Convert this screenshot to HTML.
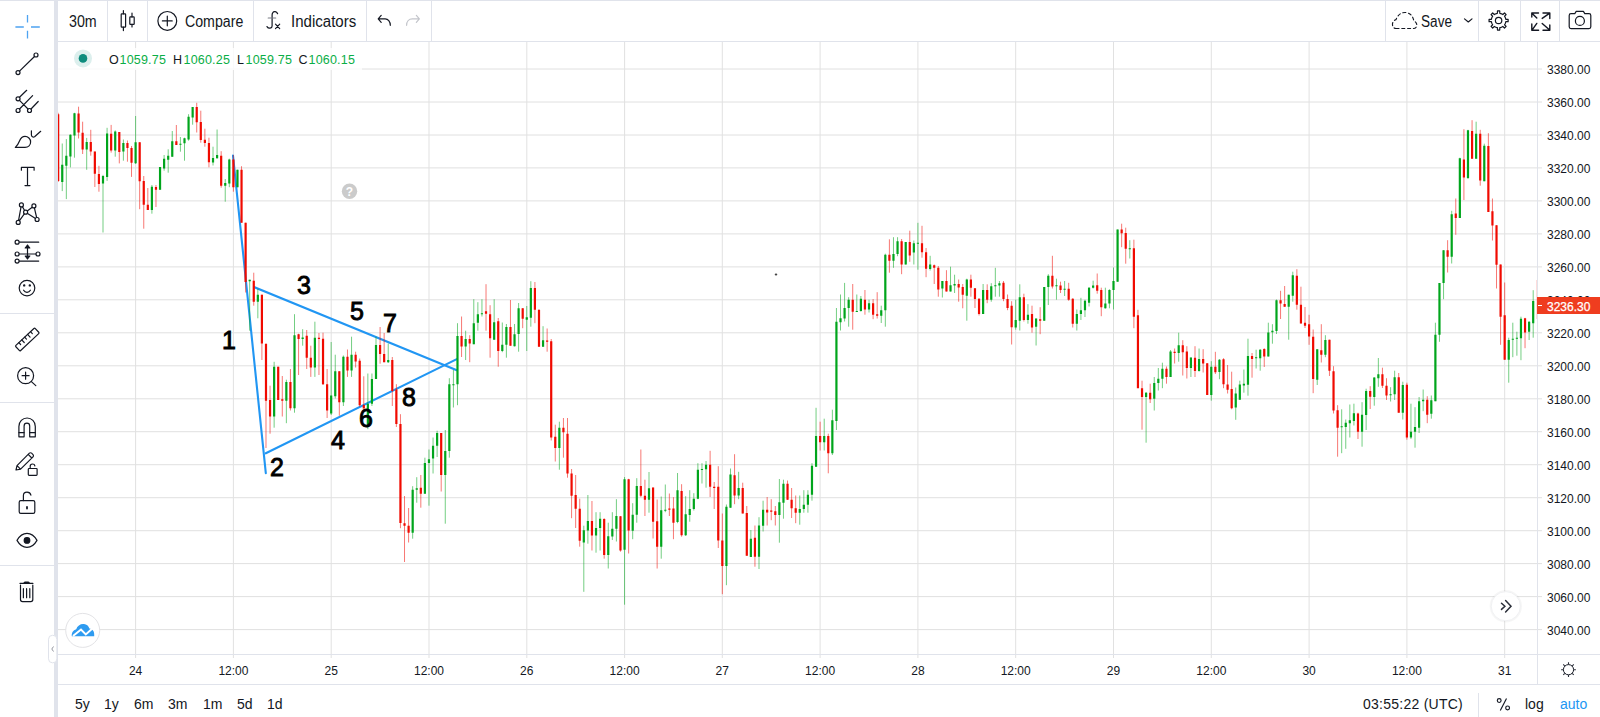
<!DOCTYPE html>
<html><head><meta charset="utf-8">
<style>
*{margin:0;padding:0;box-sizing:border-box}
html,body{width:1600px;height:717px;overflow:hidden;background:#fff;font-family:"Liberation Sans",sans-serif;color:#131722}
.abs{position:absolute}
#topstrip{position:absolute;left:0;top:0;width:1600px;height:1px;background:#e0e3eb}
#lsep{position:absolute;left:54px;top:0;width:4px;height:717px;background:#e0e3eb}
#tbar{position:absolute;left:58px;top:1px;width:1542px;height:41px;border-bottom:1px solid #e0e3eb;background:#fff}
.vsep{position:absolute;top:1px;width:1px;height:40px;background:#e0e3eb}
.hsep{position:absolute;left:0;width:54px;height:1px;background:#e0e3eb}
.tt{position:absolute;top:13px;font-size:16px;line-height:17px;transform-origin:0 0;color:#131722;white-space:nowrap}
#chart{position:absolute;left:0;top:0}
.pl{position:absolute;left:1547px;font-size:12px;line-height:15px;color:#131722;white-space:nowrap}
.tl{position:absolute;top:664px;width:60px;text-align:center;font-size:12px;line-height:15px;color:#131722}
.bt{position:absolute;top:696px;font-size:14px;line-height:17px;color:#131722;white-space:nowrap}
.num{position:absolute;font-weight:normal;font-size:25px;line-height:25px;color:#000;-webkit-text-stroke:0.9px #000}
.lg{position:absolute;top:53px;font-size:12.5px;line-height:15px;color:#131722;white-space:nowrap;letter-spacing:0.2px}
.lg.g{color:#0aae46}
</style></head><body>
<div id="topstrip"></div>

<!-- chart svg -->
<svg id="chart" width="1600" height="717" viewBox="0 0 1600 717">
  <path d="M58 69.0H1542M58 102.0H1542M58 135.0H1542M58 167.9H1542M58 200.9H1542M58 233.9H1542M58 266.9H1542M58 299.8H1542M58 332.8H1542M58 365.8H1542M58 398.8H1542M58 431.7H1542M58 464.7H1542M58 497.7H1542M58 530.7H1542M58 563.6H1542M58 596.6H1542M58 629.6H1542" stroke="#e0e0e0" stroke-width="1" fill="none"/>
  <path d="M135.6 42V658M233.4 42V658M331.2 42V658M429.0 42V658M526.8 42V658M624.6 42V658M722.3 42V658M820.1 42V658M917.9 42V658M1015.7 42V658M1113.5 42V658M1211.3 42V658M1309.1 42V658M1406.9 42V658M1504.7 42V658" stroke="#e1e1e1" stroke-width="1" fill="none"/>
  <rect x="58" y="48" width="304" height="22" fill="#fff" fill-opacity="0.8"/>
  <defs><clipPath id="cp"><rect x="58" y="42" width="1480.5" height="612"/></clipPath></defs>
  <g stroke="#2196f3" stroke-width="2.1" fill="none" stroke-linecap="round">
    <path d="M233 155.6L265.8 473.2"/>
    <path d="M254 287L456.8 370.2"/>
    <path d="M265.8 453.3L456.8 359.1"/>
  </g>
  <g clip-path="url(#cp)"><path d="M62.26 143.5V191.1M66.33 139.1V199.1M70.41 134.4V167.4M74.48 112.8V157.7M86.70 137.9V169.8M103.00 174.9V232.5M107.08 127.8V180.9M115.23 130.4V156.7M123.38 139.5V160.7M135.60 116.0V164.0M151.90 185.0V213.7M160.05 167.0V189.8M164.12 155.0V170.7M168.20 149.3V172.7M172.27 131.0V156.8M180.42 137.0V151.7M184.50 137.7V160.7M188.57 114.2V140.7M192.64 107.0V124.7M213.02 146.7V165.5M217.09 129.5V158.7M225.24 179.0V201.7M229.32 158.7V187.2M237.47 169.7V187.2M249.69 279.7V330.7M257.84 288.7V318.3M274.14 361.8V427.7M286.36 379.7V423.2M294.51 314.2V412.7M302.66 329.2V345.7M314.88 321.7V376.9M331.18 342.0V415.0M335.26 354.7V398.5M343.40 355.5V406.0M351.55 336.7V376.9M367.85 373.5V429.2M371.93 373.5V406.0M376.00 336.7V379.0M388.23 343.5V363.0M412.67 486.2V538.7M416.75 477.2V502.7M424.90 457.7V493.7M428.97 449.5V505.7M433.05 437.5V473.5M437.12 430.7V457.0M445.27 430.0V523.7M449.34 378.2V457.7M453.42 370.0V407.5M457.49 323.2V405.2M465.64 330.7V360.0M473.79 299.2V344.2M477.87 302.2V330.7M481.94 299.2V316.5M494.16 299.2V339.7M502.31 322.5V352.2M506.39 324.0V357.7M514.54 324.0V346.5M518.61 303.0V351.7M526.76 306.0V351.0M530.84 281.2V326.7M543.06 326.2V346.8M559.36 421.7V469.7M583.81 525.7V591.8M587.88 495.0V543.7M596.03 512.2V552.7M600.10 512.2V550.5M608.25 522.7V568.5M612.33 512.2V540.0M616.40 499.2V541.5M624.55 477.0V604.7M632.70 503.2V539.2M636.78 478.2V522.7M649.00 472.0V512.7M661.22 496.5V558.7M665.30 484.5V512.2M677.52 473.0V523.2M685.67 496.2V536.0M689.75 490.2V521.7M693.82 493.2V510.5M697.89 463.2V499.2M701.97 463.2V483.5M706.04 461.0V487.7M726.42 504.5V585.2M730.49 468.5V507.8M738.64 471.8V499.2M750.86 530.0V557.0M759.01 517.2V569.0M763.09 500.7V531.5M779.39 479.0V542.7M783.46 479.7V518.7M799.76 495.5V524.7M803.83 490.2V512.7M807.91 490.2V512.7M811.98 463.2V500.7M816.06 407.8V467.0M824.21 418.7V450.5M832.36 409.7V455.0M836.43 308.0V430.0M840.51 294.5V330.5M844.58 282.9V321.5M848.66 297.2V326.7M856.80 294.5V311.7M860.88 296.0V311.7M869.03 299.7V312.5M881.25 305.7V323.0M885.33 253.7V326.7M893.48 237.2V267.8M897.55 237.2V256.2M905.70 242.0V264.5M913.85 240.5V264.5M917.92 222.8V269.7M930.15 255.8V270.5M942.37 281.0V297.5M950.52 266.7V291.5M954.59 274.7V293.0M966.82 278.7V320.7M983.12 284.0V314.0M991.27 283.2V301.7M995.34 267.8V296.7M999.42 281.0V296.7M1015.71 299.7V329.7M1019.79 284.3V330.5M1027.94 304.2V323.7M1036.09 318.5V345.5M1044.24 287.0V320.7M1048.31 274.2V305.0M1056.46 278.7V299.7M1064.61 281.0V296.0M1076.83 309.5V330.5M1080.91 297.8V320.0M1084.98 299.7V317.0M1089.06 287.0V306.5M1093.13 280.7V288.5M1105.35 287.7V308.7M1109.43 289.2V308.3M1113.50 267.5V309.5M1117.58 229.5V281.7M1129.80 240.2V258.5M1146.10 392.0V442.7M1154.25 377.0V410.5M1158.32 368.0V390.5M1162.40 362.7V388.2M1170.55 350.0V377.0M1178.70 332.7V361.7M1190.92 357.5V377.0M1199.07 348.5V371.7M1211.29 361.2V400.7M1219.44 359.0V379.2M1235.74 387.5V419.8M1239.82 380.7V399.7M1243.89 369.5V392.7M1247.97 338.7V395.7M1256.12 349.7V368.5M1260.19 349.0V370.7M1268.34 322.7V356.5M1272.41 324.2V343.7M1276.49 299.5V334.0M1288.71 294.7V339.7M1292.79 271.7V301.7M1317.23 349.3V385.0M1325.38 335.2V357.2M1341.68 409.3V453.2M1345.76 419.5V448.8M1349.83 404.5V437.5M1353.91 403.7V425.5M1362.05 402.2V446.7M1366.13 388.7V430.0M1374.28 377.2V405.7M1378.35 358.0V386.8M1390.58 387.2V401.5M1394.65 370.7V400.0M1402.80 381.7V419.5M1410.95 403.7V439.0M1415.02 407.2V447.7M1419.10 397.0V433.0M1423.17 389.5V411.2M1431.32 395.5V418.7M1435.40 322.7V401.2M1439.47 283.0V341.8M1443.55 250.2V299.2M1451.70 210.8V263.5M1459.85 157.7V218.0M1467.99 129.8V178.2M1476.14 121.7V158.7M1484.29 143.7V181.2M1508.74 337.7V382.7M1512.81 322.7V357.2M1516.89 331.7V355.7M1520.96 316.7V360.2M1529.11 321.2V340.0M1533.19 290.2V337.7" stroke="#00a51c" stroke-width="1" stroke-opacity="0.55" fill="none"/><path d="M58.18 112.8V182.0M78.56 106.7V138.5M82.63 121.7V154.0M90.78 129.8V155.7M94.85 151.6V187.0M98.93 165.8V191.7M111.15 124.9V152.6M119.30 132.0V163.4M127.45 140.5V161.7M131.53 146.0V176.9M139.67 142.2V209.2M143.75 176.0V228.7M147.82 188.0V210.0M155.97 185.0V207.0M176.35 125.0V144.9M196.72 102.8V132.5M200.79 110.7V142.7M204.87 128.7V146.7M208.94 137.7V167.3M221.17 151.2V187.7M233.39 155.0V191.7M241.54 166.2V222.7M245.61 222.7V292.5M253.76 272.7V305.7M261.91 294.7V360.0M265.99 343.8V448.0M270.06 385.7V433.7M278.21 366.7V400.0M282.29 376.0V416.5M290.43 369.0V410.5M298.58 333.7V375.0M306.73 330.0V369.0M310.81 345.7V376.9M318.96 333.0V375.0M323.03 332.7V385.0M327.11 369.0V418.0M339.33 371.2V415.7M347.48 349.5V376.9M355.63 351.7V367.5M359.70 358.5V406.7M363.78 376.3V408.3M380.08 327.0V363.7M384.15 333.0V362.2M392.30 357.0V406.0M396.37 384.2V427.0M400.45 414.2V528.2M404.52 496.0V562.0M408.60 508.0V542.5M420.82 475.0V507.7M441.20 433.0V491.5M461.57 316.5V357.0M469.72 335.2V362.2M486.02 284.2V330.7M490.09 305.2V357.7M498.24 318.0V366.7M510.46 300.0V345.7M522.69 308.2V328.2M534.91 282.0V323.2M538.99 309.7V346.8M547.13 328.5V351.7M551.21 339.0V440.5M555.28 424.7V461.5M563.43 418.0V457.7M567.51 418.0V477.7M571.58 469.0V518.2M575.66 475.0V528.0M579.73 498.7V546.7M591.96 501.0V550.5M604.18 518.2V558.7M620.48 516.0V551.7M628.63 478.8V553.5M640.85 449.5V497.2M644.93 479.7V516.0M653.07 487.5V538.5M657.15 499.5V568.5M669.37 493.5V516.0M673.45 497.2V539.2M681.60 484.2V536.7M710.12 450.8V497.0M714.19 482.0V509.0M718.27 466.2V548.0M722.34 513.5V594.2M734.57 454.2V504.2M742.72 482.7V513.5M746.79 506.0V555.8M754.94 525.5V566.7M767.16 497.0V525.5M771.24 499.2V520.2M775.31 506.0V525.5M787.54 480.5V500.0M791.61 488.0V518.0M795.69 495.5V523.2M820.13 421.7V450.5M828.28 433.7V473.3M852.73 284.0V329.7M864.95 290.0V314.7M873.10 299.0V319.2M877.18 292.2V318.5M889.40 239.3V272.7M901.62 239.0V274.2M909.77 230.7V261.8M922.00 225.8V257.7M926.07 248.0V277.2M934.22 264.5V284.0M938.30 266.0V296.7M946.45 270.2V291.5M958.67 279.5V301.7M962.74 284.0V308.3M970.89 274.7V296.7M974.97 288.2V308.0M979.04 298.2V315.5M987.19 284.3V303.2M1003.49 281.0V301.2M1007.56 294.5V310.2M1011.64 301.2V344.5M1023.86 293.7V321.5M1032.01 305.7V332.7M1040.16 307.2V334.2M1052.38 255.8V288.5M1060.53 281.7V293.0M1068.68 282.8V300.8M1072.76 298.2V327.5M1097.21 273.5V293.7M1101.28 287.7V316.2M1121.65 223.7V247.2M1125.73 227.7V263.7M1133.88 239.7V328.2M1137.95 309.8V388.0M1142.03 380.7V429.7M1150.18 383.7V403.0M1166.47 366.5V383.7M1174.62 348.5V363.5M1182.77 340.2V375.5M1186.85 346.2V378.5M1195.00 346.2V377.0M1203.15 349.2V372.5M1207.22 363.2V394.7M1215.37 351.8V374.0M1223.52 358.2V388.2M1227.59 365.0V393.5M1231.67 371.7V409.3M1252.04 353.0V377.7M1264.26 348.2V367.0M1280.56 290.8V319.0M1284.64 286.0V306.7M1296.86 269.2V309.7M1300.94 286.7V323.5M1305.01 307.0V328.0M1309.08 314.8V344.8M1313.16 329.5V393.2M1321.31 324.2V362.5M1329.46 339.7V376.0M1333.53 366.2V413.5M1337.61 405.2V456.7M1357.98 412.7V439.0M1370.20 386.2V409.0M1382.43 367.7V388.0M1386.50 378.2V400.0M1398.73 373.0V412.7M1406.88 382.7V439.7M1427.25 396.2V423.2M1447.62 240.2V272.5M1455.77 198.5V234.8M1463.92 129.2V200.0M1472.07 120.2V158.7M1480.22 129.8V185.7M1488.37 133.2V212.0M1492.44 198.5V240.5M1496.52 225.2V288.5M1500.59 264.5V344.8M1504.67 282.5V359.8M1525.04 317.8V348.2M1537.26 280.0V319.0" stroke="#f00a00" stroke-width="1" stroke-opacity="0.55" fill="none"/><path d="M61.16 164.8h2.2v17.2h-2.2zM65.23 155.7h2.2v10.1h-2.2zM69.31 134.8h2.2v21.8h-2.2zM73.38 113.2h2.2v22.2h-2.2zM85.60 141.9h2.2v7.7h-2.2zM101.90 175.9h2.2v7.5h-2.2zM105.98 133.4h2.2v43.5h-2.2zM114.13 131.4h2.2v19.2h-2.2zM122.28 142.9h2.2v8.7h-2.2zM134.50 142.2h2.2v21.0h-2.2zM150.80 186.8h2.2v23.2h-2.2zM158.95 167.0h2.2v22.8h-2.2zM163.02 158.7h2.2v9.7h-2.2zM167.10 155.7h2.2v4.0h-2.2zM171.17 141.2h2.2v15.6h-2.2zM179.32 143.7h2.2v1.0h-2.2zM183.40 138.2h2.2v5.1h-2.2zM187.47 116.7h2.2v22.9h-2.2zM191.54 107.0h2.2v10.5h-2.2zM211.92 158.0h2.2v4.5h-2.2zM215.99 155.0h2.2v3.3h-2.2zM224.14 183.0h2.2v2.7h-2.2zM228.22 159.5h2.2v24.0h-2.2zM236.37 169.7h2.2v17.5h-2.2zM248.59 279.7h2.2v1.5h-2.2zM256.74 294.7h2.2v7.0h-2.2zM273.04 366.7h2.2v49.8h-2.2zM285.26 382.0h2.2v18.7h-2.2zM293.41 335.2h2.2v73.0h-2.2zM301.56 337.5h2.2v1.5h-2.2zM313.78 337.8h2.2v29.7h-2.2zM330.08 395.5h2.2v18.0h-2.2zM334.16 371.2h2.2v25.0h-2.2zM342.30 356.7h2.2v45.6h-2.2zM350.45 354.7h2.2v15.7h-2.2zM366.75 403.7h2.2v21.0h-2.2zM370.83 379.0h2.2v24.7h-2.2zM374.90 345.0h2.2v34.0h-2.2zM387.13 360.0h2.2v2.2h-2.2zM411.57 489.7h2.2v43.0h-2.2zM415.65 488.2h2.2v1.5h-2.2zM423.80 463.0h2.2v30.8h-2.2zM427.87 459.2h2.2v3.7h-2.2zM431.95 445.7h2.2v12.7h-2.2zM436.02 433.0h2.2v12.7h-2.2zM444.17 451.0h2.2v24.0h-2.2zM448.24 384.2h2.2v66.7h-2.2zM452.32 384.2h2.2v1.0h-2.2zM456.39 336.0h2.2v48.3h-2.2zM464.54 339.0h2.2v7.5h-2.2zM472.69 323.2h2.2v21.0h-2.2zM476.77 314.2h2.2v8.5h-2.2zM480.84 313.2h2.2v1.0h-2.2zM493.06 322.2h2.2v17.5h-2.2zM501.21 344.7h2.2v6.3h-2.2zM505.29 327.0h2.2v17.7h-2.2zM513.44 334.2h2.2v12.0h-2.2zM517.51 308.2h2.2v25.9h-2.2zM525.66 317.2h2.2v2.5h-2.2zM529.74 288.0h2.2v29.7h-2.2zM541.96 340.2h2.2v6.6h-2.2zM558.26 427.7h2.2v20.2h-2.2zM582.71 530.2h2.2v12.4h-2.2zM586.78 520.9h2.2v9.7h-2.2zM594.93 528.0h2.2v7.5h-2.2zM599.00 518.7h2.2v9.3h-2.2zM607.15 536.2h2.2v18.7h-2.2zM611.23 528.7h2.2v7.9h-2.2zM615.30 516.0h2.2v12.7h-2.2zM623.45 479.2h2.2v70.5h-2.2zM631.60 514.8h2.2v15.9h-2.2zM635.68 486.0h2.2v28.8h-2.2zM647.90 488.2h2.2v11.5h-2.2zM660.12 510.3h2.2v36.4h-2.2zM664.20 509.7h2.2v1.0h-2.2zM676.42 490.2h2.2v31.9h-2.2zM684.57 514.2h2.2v21.0h-2.2zM688.65 509.0h2.2v6.0h-2.2zM692.72 498.8h2.2v10.2h-2.2zM696.79 469.7h2.2v29.1h-2.2zM700.87 468.9h2.2v1.0h-2.2zM704.94 464.7h2.2v4.5h-2.2zM725.32 506.7h2.2v59.3h-2.2zM729.39 474.5h2.2v33.3h-2.2zM737.54 488.0h2.2v7.5h-2.2zM749.76 538.7h2.2v18.3h-2.2zM757.91 525.5h2.2v31.2h-2.2zM761.99 509.7h2.2v16.0h-2.2zM778.29 502.2h2.2v12.7h-2.2zM782.36 483.8h2.2v18.9h-2.2zM798.66 509.0h2.2v3.7h-2.2zM802.73 504.8h2.2v4.2h-2.2zM806.81 494.7h2.2v10.0h-2.2zM810.88 465.8h2.2v28.9h-2.2zM814.96 436.0h2.2v30.7h-2.2zM823.11 436.0h2.2v6.3h-2.2zM831.26 420.2h2.2v33.0h-2.2zM835.33 321.8h2.2v99.2h-2.2zM839.41 318.2h2.2v4.1h-2.2zM843.48 308.0h2.2v10.5h-2.2zM847.56 299.7h2.2v8.2h-2.2zM855.70 311.0h2.2v1.0h-2.2zM859.78 298.7h2.2v12.3h-2.2zM867.93 303.2h2.2v6.3h-2.2zM880.15 310.2h2.2v5.5h-2.2zM884.23 254.7h2.2v55.5h-2.2zM892.38 254.0h2.2v6.7h-2.2zM896.45 241.2h2.2v12.7h-2.2zM904.60 242.0h2.2v22.5h-2.2zM912.75 243.2h2.2v9.3h-2.2zM916.82 242.7h2.2v1.0h-2.2zM929.05 264.5h2.2v4.5h-2.2zM941.27 281.0h2.2v7.5h-2.2zM949.42 285.2h2.2v6.3h-2.2zM953.49 284.0h2.2v1.5h-2.2zM965.72 279.5h2.2v16.2h-2.2zM982.02 290.0h2.2v24.0h-2.2zM990.17 286.2h2.2v13.5h-2.2zM994.24 285.2h2.2v1.0h-2.2zM998.32 283.2h2.2v2.2h-2.2zM1014.61 320.0h2.2v7.5h-2.2zM1018.69 297.2h2.2v23.6h-2.2zM1026.84 314.7h2.2v5.3h-2.2zM1034.99 318.5h2.2v8.3h-2.2zM1043.14 287.0h2.2v33.7h-2.2zM1047.21 275.7h2.2v11.2h-2.2zM1055.36 285.2h2.2v1.0h-2.2zM1063.51 288.8h2.2v1.0h-2.2zM1075.73 314.0h2.2v9.8h-2.2zM1079.81 310.2h2.2v3.7h-2.2zM1083.88 300.8h2.2v9.4h-2.2zM1087.96 287.7h2.2v15.0h-2.2zM1092.03 285.5h2.2v2.2h-2.2zM1104.25 303.5h2.2v4.8h-2.2zM1108.33 290.0h2.2v13.5h-2.2zM1112.40 281.0h2.2v9.0h-2.2zM1116.48 229.5h2.2v52.2h-2.2zM1128.70 248.3h2.2v1.0h-2.2zM1145.00 392.7h2.2v4.3h-2.2zM1153.15 383.0h2.2v15.8h-2.2zM1157.22 378.8h2.2v4.2h-2.2zM1161.30 368.7h2.2v10.0h-2.2zM1169.45 351.5h2.2v25.5h-2.2zM1177.60 345.2h2.2v7.8h-2.2zM1189.82 357.5h2.2v10.5h-2.2zM1197.97 359.0h2.2v12.0h-2.2zM1210.19 366.8h2.2v28.2h-2.2zM1218.34 359.7h2.2v12.4h-2.2zM1234.64 393.5h2.2v14.0h-2.2zM1238.72 384.5h2.2v15.2h-2.2zM1242.79 383.7h2.2v1.9h-2.2zM1246.87 356.0h2.2v28.8h-2.2zM1255.02 357.2h2.2v1.0h-2.2zM1259.09 349.7h2.2v8.6h-2.2zM1267.24 332.5h2.2v24.0h-2.2zM1271.31 330.7h2.2v1.5h-2.2zM1275.39 300.2h2.2v30.7h-2.2zM1287.61 294.7h2.2v12.0h-2.2zM1291.69 275.2h2.2v20.5h-2.2zM1316.13 349.3h2.2v30.5h-2.2zM1324.28 340.0h2.2v14.7h-2.2zM1340.58 426.2h2.2v1.0h-2.2zM1344.66 422.8h2.2v4.2h-2.2zM1348.73 420.2h2.2v3.0h-2.2zM1352.81 413.2h2.2v7.8h-2.2zM1360.95 414.7h2.2v17.1h-2.2zM1365.03 391.0h2.2v24.0h-2.2zM1373.18 377.5h2.2v19.5h-2.2zM1377.25 374.2h2.2v4.0h-2.2zM1389.48 394.3h2.2v1.0h-2.2zM1393.55 377.2h2.2v17.1h-2.2zM1401.70 385.0h2.2v27.7h-2.2zM1409.85 431.8h2.2v5.7h-2.2zM1413.92 427.0h2.2v4.8h-2.2zM1418.00 401.2h2.2v26.5h-2.2zM1422.07 399.7h2.2v1.5h-2.2zM1430.22 400.3h2.2v13.5h-2.2zM1434.30 334.7h2.2v66.5h-2.2zM1438.37 283.0h2.2v51.7h-2.2zM1442.45 250.2h2.2v32.8h-2.2zM1450.60 214.2h2.2v42.5h-2.2zM1458.75 158.3h2.2v59.7h-2.2zM1466.89 130.2h2.2v48.0h-2.2zM1475.04 133.7h2.2v25.0h-2.2zM1483.19 145.7h2.2v35.5h-2.2zM1507.64 340.0h2.2v19.8h-2.2zM1511.71 338.8h2.2v1.0h-2.2zM1515.79 337.7h2.2v1.0h-2.2zM1519.86 318.7h2.2v19.5h-2.2zM1528.01 321.7h2.2v10.0h-2.2zM1532.09 301.0h2.2v22.2h-2.2z" fill="#00a51c"/><path d="M57.08 114.2h2.2v66.7h-2.2zM77.46 113.6h2.2v18.8h-2.2zM81.53 132.8h2.2v16.8h-2.2zM89.68 141.9h2.2v9.7h-2.2zM93.75 151.6h2.2v22.2h-2.2zM97.83 173.9h2.2v10.1h-2.2zM110.05 133.8h2.2v16.8h-2.2zM118.20 132.0h2.2v20.0h-2.2zM126.35 142.9h2.2v5.1h-2.2zM130.43 148.0h2.2v14.8h-2.2zM138.57 142.2h2.2v39.0h-2.2zM142.65 180.9h2.2v23.8h-2.2zM146.72 204.7h2.2v5.2h-2.2zM154.87 186.9h2.2v2.8h-2.2zM175.25 141.2h2.2v3.7h-2.2zM195.62 107.0h2.2v15.3h-2.2zM199.69 122.0h2.2v18.0h-2.2zM203.77 139.7h2.2v3.3h-2.2zM207.84 143.0h2.2v19.2h-2.2zM220.07 155.7h2.2v30.0h-2.2zM232.29 159.5h2.2v27.7h-2.2zM240.44 169.7h2.2v53.1h-2.2zM244.51 222.7h2.2v59.2h-2.2zM252.66 280.8h2.2v21.0h-2.2zM260.81 294.7h2.2v48.7h-2.2zM264.89 343.8h2.2v57.0h-2.2zM268.96 400.0h2.2v16.5h-2.2zM277.11 366.7h2.2v33.3h-2.2zM281.19 399.2h2.2v1.5h-2.2zM289.33 382.0h2.2v26.2h-2.2zM297.48 334.2h2.2v4.8h-2.2zM305.63 335.7h2.2v22.0h-2.2zM309.71 357.7h2.2v9.7h-2.2zM317.86 337.8h2.2v1.2h-2.2zM321.93 338.7h2.2v45.6h-2.2zM326.01 384.2h2.2v26.2h-2.2zM338.23 371.2h2.2v31.0h-2.2zM346.38 356.7h2.2v13.8h-2.2zM354.53 354.7h2.2v6.7h-2.2zM358.60 360.7h2.2v44.5h-2.2zM362.68 404.9h2.2v3.5h-2.2zM378.98 345.0h2.2v9.0h-2.2zM383.05 354.0h2.2v8.2h-2.2zM391.20 360.0h2.2v31.0h-2.2zM395.27 389.5h2.2v34.5h-2.2zM399.35 424.0h2.2v99.0h-2.2zM403.42 523.3h2.2v2.4h-2.2zM407.50 525.7h2.2v7.0h-2.2zM419.72 487.7h2.2v6.0h-2.2zM440.10 433.0h2.2v42.0h-2.2zM460.47 336.0h2.2v10.5h-2.2zM468.62 339.0h2.2v4.5h-2.2zM484.92 311.2h2.2v2.5h-2.2zM488.99 314.2h2.2v24.0h-2.2zM497.14 321.3h2.2v29.7h-2.2zM509.36 327.0h2.2v18.7h-2.2zM521.59 308.2h2.2v10.5h-2.2zM533.81 288.0h2.2v21.7h-2.2zM537.89 309.7h2.2v37.0h-2.2zM546.03 340.5h2.2v1.2h-2.2zM550.11 341.2h2.2v96.3h-2.2zM554.18 436.7h2.2v11.2h-2.2zM562.33 427.7h2.2v4.5h-2.2zM566.41 433.7h2.2v39.7h-2.2zM570.48 473.5h2.2v22.3h-2.2zM574.56 495.0h2.2v13.8h-2.2zM578.63 508.8h2.2v31.9h-2.2zM590.86 520.9h2.2v14.5h-2.2zM603.08 519.0h2.2v36.0h-2.2zM619.38 516.3h2.2v34.2h-2.2zM627.53 479.2h2.2v51.4h-2.2zM639.75 486.0h2.2v9.7h-2.2zM643.83 495.7h2.2v4.0h-2.2zM651.97 487.5h2.2v34.2h-2.2zM656.05 521.2h2.2v25.5h-2.2zM668.27 508.5h2.2v1.2h-2.2zM672.35 508.5h2.2v14.2h-2.2zM680.50 491.0h2.2v44.2h-2.2zM709.02 464.7h2.2v22.0h-2.2zM713.09 486.8h2.2v1.2h-2.2zM717.17 486.8h2.2v53.7h-2.2zM721.24 540.5h2.2v25.5h-2.2zM733.47 475.2h2.2v20.2h-2.2zM741.62 488.0h2.2v25.5h-2.2zM745.69 513.0h2.2v42.8h-2.2zM753.84 537.8h2.2v18.9h-2.2zM766.06 509.7h2.2v2.7h-2.2zM770.14 510.5h2.2v1.2h-2.2zM774.21 511.2h2.2v3.7h-2.2zM786.44 483.8h2.2v15.9h-2.2zM790.51 499.7h2.2v8.5h-2.2zM794.59 508.2h2.2v4.5h-2.2zM819.03 436.0h2.2v6.3h-2.2zM827.18 436.0h2.2v17.2h-2.2zM851.63 299.7h2.2v12.0h-2.2zM863.85 299.7h2.2v9.7h-2.2zM872.00 303.2h2.2v11.5h-2.2zM876.08 314.3h2.2v1.5h-2.2zM888.30 254.7h2.2v6.0h-2.2zM900.52 241.2h2.2v23.2h-2.2zM908.67 242.0h2.2v13.5h-2.2zM920.90 243.2h2.2v9.0h-2.2zM924.97 252.2h2.2v16.5h-2.2zM933.12 265.2h2.2v2.5h-2.2zM937.20 267.8h2.2v21.7h-2.2zM945.35 281.0h2.2v10.5h-2.2zM957.57 284.0h2.2v3.4h-2.2zM961.64 287.0h2.2v7.8h-2.2zM969.79 279.5h2.2v8.2h-2.2zM973.87 288.2h2.2v10.8h-2.2zM977.94 298.7h2.2v15.3h-2.2zM986.09 290.0h2.2v9.7h-2.2zM1002.39 282.8h2.2v16.2h-2.2zM1006.46 299.0h2.2v9.0h-2.2zM1010.54 305.7h2.2v21.5h-2.2zM1022.76 297.2h2.2v22.8h-2.2zM1030.91 314.0h2.2v13.5h-2.2zM1039.06 319.2h2.2v1.5h-2.2zM1051.29 275.7h2.2v10.9h-2.2zM1059.43 285.5h2.2v4.5h-2.2zM1067.58 288.8h2.2v10.9h-2.2zM1071.66 298.7h2.2v25.1h-2.2zM1096.11 285.2h2.2v5.5h-2.2zM1100.18 290.0h2.2v17.2h-2.2zM1120.55 229.5h2.2v3.7h-2.2zM1124.63 233.0h2.2v15.7h-2.2zM1132.78 248.3h2.2v68.4h-2.2zM1136.85 315.2h2.2v73.1h-2.2zM1140.93 388.2h2.2v8.8h-2.2zM1149.08 392.7h2.2v6.5h-2.2zM1165.37 368.7h2.2v8.2h-2.2zM1173.52 351.8h2.2v1.2h-2.2zM1181.67 345.2h2.2v7.0h-2.2zM1185.75 351.5h2.2v16.5h-2.2zM1193.90 357.8h2.2v13.2h-2.2zM1202.05 359.0h2.2v4.5h-2.2zM1206.12 363.2h2.2v31.8h-2.2zM1214.27 366.8h2.2v5.4h-2.2zM1222.42 359.3h2.2v24.9h-2.2zM1226.49 384.5h2.2v5.2h-2.2zM1230.57 389.0h2.2v19.3h-2.2zM1250.94 356.0h2.2v3.0h-2.2zM1263.16 349.0h2.2v7.5h-2.2zM1279.46 300.2h2.2v3.4h-2.2zM1283.54 304.0h2.2v2.7h-2.2zM1295.76 275.8h2.2v28.9h-2.2zM1299.84 304.7h2.2v18.7h-2.2zM1303.91 322.7h2.2v3.0h-2.2zM1307.98 324.2h2.2v12.4h-2.2zM1312.06 336.7h2.2v42.3h-2.2zM1320.21 350.2h2.2v4.5h-2.2zM1328.36 339.7h2.2v31.1h-2.2zM1332.43 371.2h2.2v39.3h-2.2zM1336.51 410.2h2.2v17.5h-2.2zM1356.88 413.5h2.2v18.3h-2.2zM1369.10 391.0h2.2v5.7h-2.2zM1381.33 374.2h2.2v11.5h-2.2zM1385.40 385.7h2.2v9.7h-2.2zM1397.63 377.2h2.2v35.5h-2.2zM1405.78 384.7h2.2v52.8h-2.2zM1426.15 399.7h2.2v15.0h-2.2zM1446.52 250.2h2.2v6.5h-2.2zM1454.67 213.5h2.2v4.5h-2.2zM1462.82 159.5h2.2v18.0h-2.2zM1470.97 131.0h2.2v27.7h-2.2zM1479.12 133.7h2.2v46.8h-2.2zM1487.27 146.0h2.2v66.0h-2.2zM1491.34 211.2h2.2v14.3h-2.2zM1495.42 225.2h2.2v39.6h-2.2zM1499.49 264.5h2.2v52.3h-2.2zM1503.57 315.2h2.2v44.5h-2.2zM1523.94 318.2h2.2v14.2h-2.2z" fill="#f00a00"/></g>

  <circle cx="349.5" cy="191.3" r="7.7" fill="#cbcbcb"/>
  <text x="349.5" y="195.8" font-family="Liberation Sans" font-weight="bold" font-size="12" fill="#fff" text-anchor="middle">?</text>
  <ellipse cx="776" cy="274.5" rx="1.3" ry="1" fill="#444"/>
</svg>
<div class="num" style="left:222px;top:328px">1</div>
<div class="num" style="left:270px;top:455px">2</div>
<div class="num" style="left:297px;top:273px">3</div>
<div class="num" style="left:331px;top:428px">4</div>
<div class="num" style="left:350px;top:299px">5</div>
<div class="num" style="left:359px;top:406px">6</div>
<div class="num" style="left:383px;top:311px">7</div>
<div class="num" style="left:402px;top:385px">8</div>

<div id="lsep"></div>
<div id="tbar"></div>
<div class="vsep" style="left:107px"></div>
<div class="vsep" style="left:147px"></div>
<div class="vsep" style="left:253px"></div>
<div class="vsep" style="left:366px"></div>
<div class="vsep" style="left:431px"></div>
<div class="vsep" style="left:1385px"></div>
<div class="vsep" style="left:1478px"></div>
<div class="vsep" style="left:1520px"></div>
<div class="vsep" style="left:1559px"></div>

<div class="tt" style="left:69px;transform:scaleX(0.89)">30m</div>
<div class="tt" style="left:185px;transform:scaleX(0.886)">Compare</div>
<div class="tt" style="left:290.5px;transform:scaleX(0.94)">Indicators</div>
<div class="tt" style="left:1420.5px;transform:scaleX(0.85)">Save</div>

<!-- axes -->
<div class="abs" style="left:1537px;top:42px;width:1px;height:642px;background:#e0e3eb"></div>
<div class="abs" style="left:58px;top:654px;width:1542px;height:1px;background:#e0e3eb"></div>
<div class="abs" style="left:58px;top:684px;width:1542px;height:1px;background:#e0e3eb"></div>
<div class="pl" style="top:63.3px">3380.00</div><div class="pl" style="top:96.3px">3360.00</div><div class="pl" style="top:129.3px">3340.00</div><div class="pl" style="top:162.2px">3320.00</div><div class="pl" style="top:195.2px">3300.00</div><div class="pl" style="top:228.2px">3280.00</div><div class="pl" style="top:261.2px">3260.00</div><div class="pl" style="top:294.1px">3240.00</div><div class="pl" style="top:327.1px">3220.00</div><div class="pl" style="top:360.1px">3200.00</div><div class="pl" style="top:393.1px">3180.00</div><div class="pl" style="top:426.0px">3160.00</div><div class="pl" style="top:459.0px">3140.00</div><div class="pl" style="top:492.0px">3120.00</div><div class="pl" style="top:525.0px">3100.00</div><div class="pl" style="top:557.9px">3080.00</div><div class="pl" style="top:590.9px">3060.00</div><div class="pl" style="top:623.9px">3040.00</div>
<div class="tl" style="left:105.6px">24</div><div class="tl" style="left:203.4px">12:00</div><div class="tl" style="left:301.2px">25</div><div class="tl" style="left:399.0px">12:00</div><div class="tl" style="left:496.8px">26</div><div class="tl" style="left:594.6px">12:00</div><div class="tl" style="left:692.3px">27</div><div class="tl" style="left:790.1px">12:00</div><div class="tl" style="left:887.9px">28</div><div class="tl" style="left:985.7px">12:00</div><div class="tl" style="left:1083.5px">29</div><div class="tl" style="left:1181.3px">12:00</div><div class="tl" style="left:1279.1px">30</div><div class="tl" style="left:1376.9px">12:00</div><div class="tl" style="left:1474.7px">31</div>
<div class="abs" style="left:1537px;top:297px;width:63px;height:17px;background:#ef3d1f"></div>
<div class="pl" style="top:299.5px;color:#fff;-webkit-text-stroke:0.25px #fff">3236.30</div>
<div class="abs" style="left:1537.5px;top:305px;width:4px;height:1px;background:#fff"></div>

<!-- left toolbar separators -->
<div class="hsep" style="top:313px"></div>
<div class="hsep" style="top:402px"></div>
<div class="hsep" style="top:565px"></div>

<!-- bottom toolbar -->
<div class="bt" style="left:75px">5y</div>
<div class="bt" style="left:104px">1y</div>
<div class="bt" style="left:134px">6m</div>
<div class="bt" style="left:168px">3m</div>
<div class="bt" style="left:203px">1m</div>
<div class="bt" style="left:237px">5d</div>
<div class="bt" style="left:267px">1d</div>
<div class="bt" style="left:1363px;letter-spacing:0.25px">03:55:22 (UTC)</div>
<div class="abs" style="left:1478px;top:693px;width:1px;height:24px;background:#e0e3eb"></div>
<svg class="abs" style="left:1490px;top:692px" width="26" height="24" viewBox="1490 692 26 24"><g stroke="#131722" stroke-width="1.15" fill="none"><circle cx="1499.2" cy="700.6" r="1.9"/><circle cx="1507.6" cy="707.9" r="1.9"/><path d="M1506.5 698.5L1500.3 710.6"/></g></svg>
<div class="bt" style="left:1525px">log</div>
<div class="bt" style="left:1560px;color:#2196f3">auto</div>


<svg class="abs" style="left:0;top:0" width="1600" height="717" viewBox="0 0 1600 717">
 <g fill="none" stroke="#131722" stroke-width="1.2" stroke-linecap="round" stroke-linejoin="round">
  <!-- top toolbar: candles -->
  <path d="M123.4 10.6V13.8M123.4 27.2V30.6M132 13V16.9M132 24.4V27"/>
  <rect x="121.2" y="13.8" width="4.4" height="13.4" rx="0.6"/>
  <rect x="129.8" y="16.9" width="4.4" height="7.5" rx="0.6"/>
  <!-- compare -->
  <circle cx="167.3" cy="20.9" r="9.4"/>
  <path d="M167.3 16V25.8M162.4 20.9H172.2"/>
  <!-- fx -->
  <path d="M277.6 13.6C276.5 11.5 274 10.8 272.8 12.6C272.2 13.4 272.1 14.2 272.1 15V25.9C272.1 28.5 268.5 29 267 26.6"/>
  <path d="M268.2 18H275.7" stroke="#7a7d85"/>
  <path d="M275.5 24.2L279.7 28.6M279.7 24.2L275.5 28.6"/>
  <!-- undo -->
  <path d="M381.2 15.35L378.2 18.85L381.2 22.35M378.2 18.85H385.2C388 18.85 390.3 21.5 390.3 25.3"/>
  <!-- redo -->
  <path stroke="#c3c5cb" d="M416.35 15.35L419.35 18.85L416.35 22.35M419.35 18.85H412.3C409 18.85 406.6 21.5 406.6 25.3"/>
  <!-- cloud -->
  <path stroke-dasharray="3 2.8" stroke-width="1.15" d="M1396 28.5H1413.5C1416 28.5 1417.2 26.3 1416.6 24C1416.2 22.3 1415 21.4 1413.8 21.2C1413.2 15.8 1409.6 12.5 1405 12.5C1400.6 12.5 1397.6 15.4 1396 19.6C1393.6 20.4 1392.2 22.6 1392.5 25C1392.8 27.2 1394.2 28.5 1396 28.5Z"/>
  <!-- chevron -->
  <path d="M1464.5 18.9L1468.3 22L1472 18.9"/>
  <!-- gear -->
  <circle cx="1498.6" cy="20.5" r="3.2"/>
  <path d="M1505.51 18.14L1505.80 19.30L1508.13 19.37L1508.13 21.63L1505.80 21.70L1505.51 22.86L1505.16 23.71L1504.54 24.74L1506.14 26.44L1504.54 28.04L1502.84 26.44L1501.81 27.06L1500.96 27.41L1499.80 27.70L1499.73 30.03L1497.47 30.03L1497.40 27.70L1496.24 27.41L1495.39 27.06L1494.36 26.44L1492.66 28.04L1491.06 26.44L1492.66 24.74L1492.04 23.71L1491.69 22.86L1491.40 21.70L1489.07 21.63L1489.07 19.37L1491.40 19.30L1491.69 18.14L1492.04 17.29L1492.66 16.26L1491.06 14.56L1492.66 12.96L1494.36 14.56L1495.39 13.94L1496.24 13.59L1497.40 13.30L1497.47 10.97L1499.73 10.97L1499.80 13.30L1500.96 13.59L1501.81 13.94L1502.84 14.56L1504.54 12.96L1506.14 14.56L1504.54 16.26L1505.16 17.29Z"/>
  <!-- fullscreen -->
  <path stroke-width="1.4" d="M1531.8 17V13H1538.5M1532.2 13.4L1536.8 18M1543 13H1549.8V18.6M1549.4 13.4L1542.2 18.4M1531.8 24V30.2H1538.6M1532.2 29.8L1536.8 23.4M1549.8 25V30.2H1543M1549.4 29.8L1542.2 23.4"/>
  <!-- camera -->
  <path d="M1571 13.6H1574.8L1576.2 11.4H1583.4L1584.8 13.6H1589C1590 13.6 1590.8 14.4 1590.8 15.4V26.8C1590.8 27.8 1590 28.6 1589 28.6H1571C1570 28.6 1569.2 27.8 1569.2 26.8V15.4C1569.2 14.4 1570 13.6 1571 13.6Z"/>
  <circle cx="1579.9" cy="20.9" r="4.5"/>

  <!-- left toolbar -->
  <g stroke="#4ea3f1" stroke-width="1.3" stroke-linecap="butt"><path d="M27.5 15V22.5M27.5 30.8V38.5M15.4 27H23.8M31 27H39.8"/></g>
  <!-- trend line -->
  <circle cx="18" cy="72.6" r="2"/><circle cx="36" cy="55" r="2"/>
  <path d="M19.5 71.1L34.5 56.5"/>
  <!-- pitchfork -->
  <circle cx="18.05" cy="98.8" r="2"/><circle cx="18.05" cy="110.5" r="2"/><circle cx="29.5" cy="110.5" r="2"/>
  <path d="M19.5 97.3L26.7 90.3M19.5 100.3L28 109M19.5 109L32.6 95.7M31 109L38.2 101.5"/>
  <!-- brush -->
  <path d="M15.3 147.4H25C28.3 147.4 30.6 145 30.6 142C30.6 138.8 28 136.4 25 136.4C22 136.4 20.5 138.5 19.5 141C18.5 143.5 17 146 15.3 147.4Z"/>
  <path d="M31.4 130.8V134.8C31.4 136.6 33 137.8 34.6 136.8L40.7 131.3"/>
  <!-- T -->
  <path d="M21.4 170.2V167.3H34.1V170.2M27.5 167.3V185.6M25 185.6H30"/>
  <!-- pattern -->
  <path d="M18.2 222.4L21.4 204.9L25.6 212.2L33.9 205.9L37.1 219.5L25.6 212.2L18.2 222.4"/>
  <g fill="#fff"><circle cx="18.2" cy="222.4" r="2"/><circle cx="21.4" cy="204.9" r="2"/><circle cx="25.6" cy="212.2" r="2"/><circle cx="33.9" cy="205.9" r="2"/><circle cx="37.1" cy="219.5" r="2"/></g>
  <!-- long position -->
  <path d="M19.2 242.2H38.7M19.2 261.1H38.7M19.2 254H35.9"/>
  <g fill="#fff"><circle cx="17.1" cy="242.2" r="2"/><circle cx="17.1" cy="254" r="2"/><circle cx="38" cy="254" r="2"/><circle cx="17.1" cy="261.1" r="2"/></g>
  <path d="M27.5 246.5V257.5"/>
  <path d="M25.2 248L27.5 245L29.8 248Z M25.2 256L27.5 259L29.8 256Z" fill="#131722"/>
  <!-- smiley -->
  <circle cx="27" cy="288.1" r="7.8"/>
  <path d="M23.6 290.2C25.2 293 28.8 293 30.4 290.2"/>
  <circle cx="24.2" cy="285.4" r="0.6" fill="#131722"/><circle cx="29.8" cy="285.4" r="0.6" fill="#131722"/>
  <!-- ruler -->
  <g transform="rotate(-43 27.3 339.5)">
    <rect x="14" y="336" width="26.6" height="7" rx="1"/>
    <path d="M19 336V338.6M23 336V339.6M27 336V338.6M31 336V339.6M35 336V338.6"/>
  </g>
  <!-- zoom -->
  <circle cx="25.6" cy="375.7" r="8"/>
  <path d="M25.6 372.2V379.2M22.1 375.7H29.1M31.4 381.6L35.8 385.6"/>
  <!-- magnet -->
  <path d="M18.9 436.8V426.4C18.9 421.6 22.6 418 27.1 418C31.6 418 35.3 421.6 35.3 426.4V436.8H29.7V426C29.7 424.3 28.6 423.2 26.9 423.2C25.2 423.2 24.1 424.3 24.1 426V436.8Z"/>
  <path d="M18.9 432.6H24.1M29.7 432.6H35.3"/>
  <!-- pencil lock -->
  <path d="M16 470L17 465.6L29.4 453.2C30 452.6 31 452.6 31.6 453.2L33 454.6C33.6 455.2 33.6 456.2 33 456.8L20.6 469.2Z M17 465.6L20.6 469.2M28.2 454.4L31.8 458"/>
  <rect x="28.3" y="468.5" width="8.8" height="6.9" rx="0.8"/>
  <path d="M30.2 468.5V466.2C30.2 464.9 31.3 464 32.5 464C33.7 464 34.7 464.8 34.9 465.9"/>
  <!-- lock -->
  <rect x="19.2" y="500.6" width="15.6" height="12.7" rx="1.6"/>
  <path d="M23.4 500.6V495.6C23.4 493.6 25 492.2 27 492.2C28.9 492.2 30.5 493.4 30.9 495.2"/>
  <path d="M27 506.9V508.6" stroke-width="1.8"/>
  <!-- eye -->
  <path d="M17 540.4C19.5 536 23 533.4 27 533.4C31 533.4 34.5 536 37 540.4C34.5 544.8 31 547.4 27 547.4C23 547.4 19.5 544.8 17 540.4Z"/>
  <circle cx="27" cy="540.4" r="2.8" fill="#131722"/>
  <!-- trash -->
  <path d="M20 583.4H32.9M23.8 583.4C24 582.6 24.4 582.2 25 582.2H28.3C28.9 582.2 29.3 582.6 29.5 583.4"/>
  <path d="M20.5 585.2V599.6C20.5 600.8 21.4 601.6 22.5 601.6H30.8C31.9 601.6 32.8 600.8 32.8 599.6V585.2"/>
  <path d="M23.4 588.7V597.7M26.6 588.7V597.7M29.8 588.7V597.7"/>
 </g>
 <!-- legend dot -->
 <circle cx="83" cy="58.4" r="9" fill="#dcefed"/>
 <circle cx="83" cy="58.4" r="4.3" fill="#0e8c7d"/>
 <!-- logo button -->
 <circle cx="82.7" cy="630.4" r="17" fill="#fff" stroke="#e3e3e6" stroke-width="1"/>
 <path d="M71.8 636.2C71.4 633 73.2 630 76.2 629.2C77.4 625.6 80.6 623.6 84 624C86.6 624.2 88.6 626 89.4 628.4C92.4 628.8 94.4 631.4 94.2 634.2V636.2Z" fill="#2e9bf0"/>
 <path d="M73 636L81 629.5L85.8 634.4L93.5 627.5" stroke="#fff" stroke-width="2" fill="none"/>
 <!-- handle -->
 <rect x="48.5" y="635.3" width="8.4" height="27.5" rx="4" fill="#fff" stroke="#e0e3eb"/>
 <path d="M53.5 646.5L51.8 649L53.5 651.5" stroke="#9598a1" stroke-width="1" fill="none"/>
 <!-- scroll button -->
 <circle cx="1505.8" cy="606.2" r="15.2" fill="none" stroke="#000" stroke-opacity="0.035" stroke-width="2"/>
 <circle cx="1505.8" cy="606.2" r="14.6" fill="#fff" fill-opacity="0.93" stroke="#f0f1f3" stroke-width="1"/>
 <path d="M1501.5 603.2L1504.9 606.3L1501.5 609.4M1505.6 600.6L1511 606.3L1505.6 612" stroke="#2a2e39" stroke-width="1.5" fill="none" stroke-linecap="round"/>
 <!-- axis gear -->
 <circle cx="1568.5" cy="669.7" r="5.1" stroke="#131722" stroke-width="1" fill="none"/><path d="M1573.70 669.70L1575.90 669.70M1572.18 673.38L1573.73 674.93M1568.50 674.90L1568.50 677.10M1564.82 673.38L1563.27 674.93M1563.30 669.70L1561.10 669.70M1564.82 666.02L1563.27 664.47M1568.50 664.50L1568.50 662.30M1572.18 666.02L1573.73 664.47" stroke="#2a2e39" stroke-width="1.1" fill="none"/>
</svg>

<!-- legend -->
<div class="lg" style="left:109px">O</div><div class="lg g" style="left:119.5px">1059.75</div>
<div class="lg" style="left:173px">H</div><div class="lg g" style="left:183.5px">1060.25</div>
<div class="lg" style="left:237px">L</div><div class="lg g" style="left:245.5px">1059.75</div>
<div class="lg" style="left:298.5px">C</div><div class="lg g" style="left:308.5px">1060.15</div>

</body></html>
